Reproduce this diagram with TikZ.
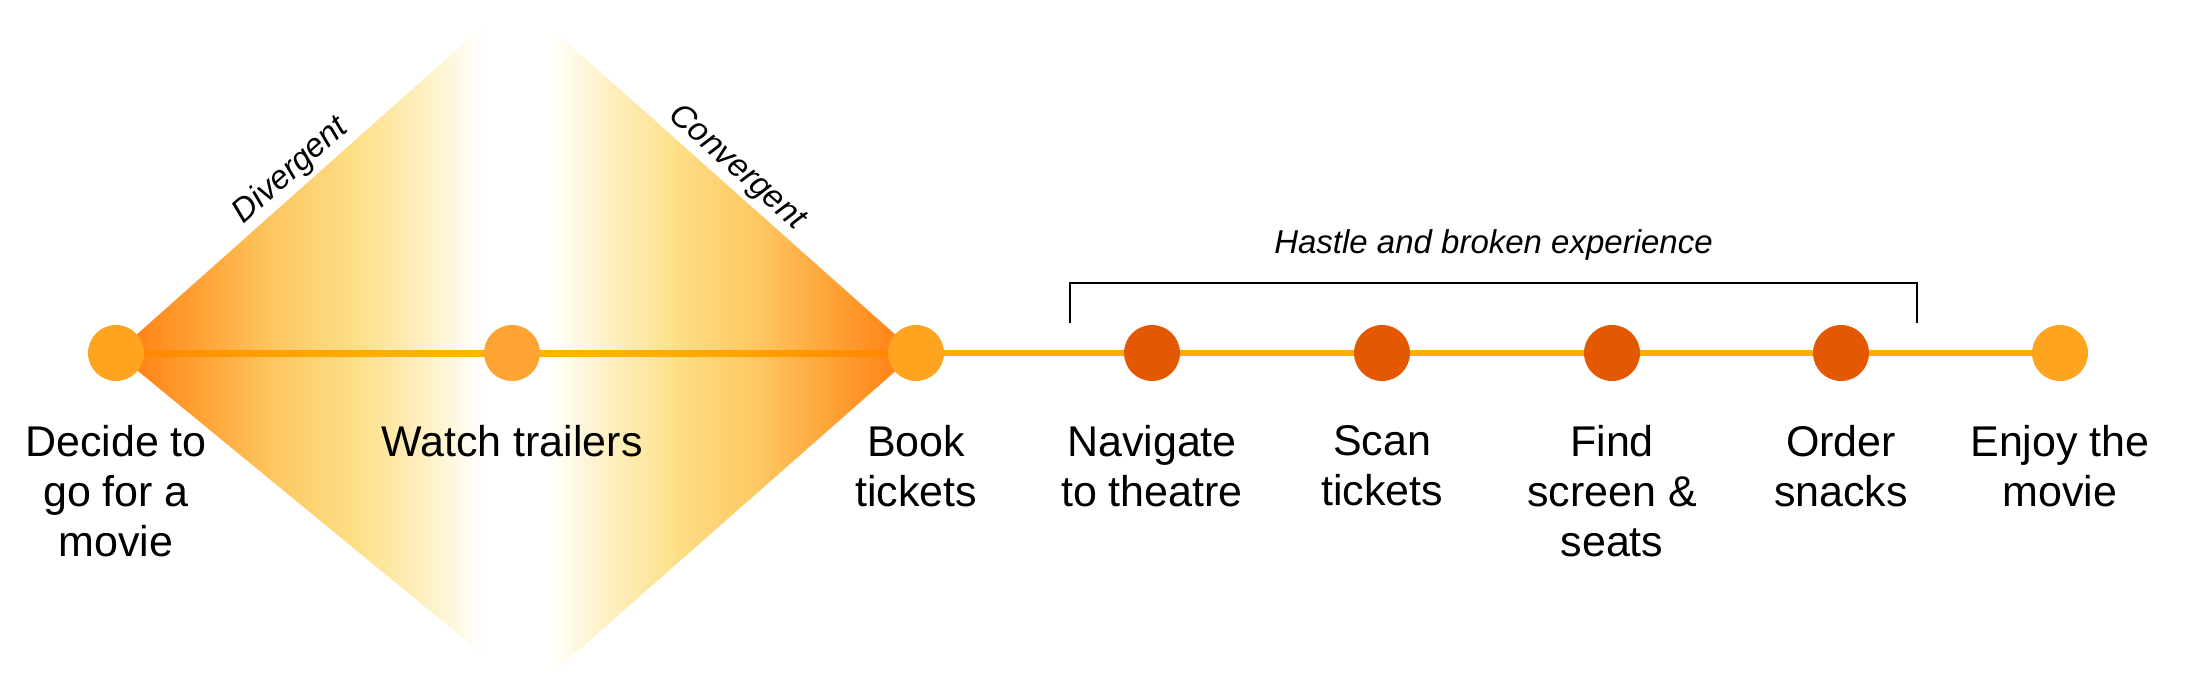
\documentclass[tikz,border=0pt]{standalone}
\usepackage{fontspec}
\setmainfont{Liberation Sans}
\usepackage{tikz}
\usetikzlibrary{positioning,calc,backgrounds}
\usepackage{xcolor}

\definecolor{funnelor}{HTML}{FF7A0E}
\definecolor{funnelmid}{HTML}{FFA033}
\definecolor{funnelgold}{HTML}{FDC862}
\definecolor{funnelyel}{HTML}{FDDF87}
\definecolor{funnelpale}{HTML}{FEF3CD}
\definecolor{trackor}{HTML}{FFAD00}
\definecolor{trackdark}{HTML}{FF8200}
\definecolor{trackmid}{HTML}{FFA600}
\definecolor{trackpale}{HTML}{FFB300}
\definecolor{stoplight}{HTML}{FFA41F}
\definecolor{stopwatch}{HTML}{FFA333}
\definecolor{stopdark}{HTML}{E35800}

% the path covers 25bp..75bp of a tikz shading
\pgfdeclarehorizontalshading{funnelshade}{100bp}{color(0bp)=(funnelor); color(25bp)=(funnelor); color(30bp)=(funnelmid); color(35bp)=(funnelgold); color(40bp)=(funnelyel); color(45bp)=(funnelpale); color(48bp)=(white); color(52bp)=(white); color(55bp)=(funnelpale); color(60bp)=(funnelyel); color(65bp)=(funnelgold); color(70bp)=(funnelmid); color(75bp)=(funnelor); color(100bp)=(funnelor)}
\pgfdeclarehorizontalshading{trackshade}{100bp}{color(0bp)=(trackdark); color(25bp)=(trackdark); color(37bp)=(trackmid); color(45bp)=(trackpale); color(55bp)=(trackpale); color(63bp)=(trackmid); color(75bp)=(trackdark); color(100bp)=(trackdark)}

\begin{document}
\begin{tikzpicture}[x=0.5pt,y=-0.5pt,
  stop/.style={circle,minimum size=28pt,inner sep=0pt},
  lbl/.style={align=center,inner sep=0pt,font=\fontsize{21.5}{25}\selectfont},
  sidelbl/.style={inner sep=0pt,font=\fontsize{16.5}{20}\selectfont\itshape},
  track/.style={draw=trackor,line width=3pt}]
\useasboundingbox (0,0) rectangle (2194,696);

% stops on the journey
\node[stop,fill=stoplight] (decide) at (116,353) {};
\node[stop,fill=stopwatch] (watch) at (512,353) {};
\node[stop,fill=stoplight] (book) at (916,353) {};
\node[stop,fill=stopdark] (navigate) at (1152,353) {};
\node[stop,fill=stopdark] (scan) at (1382,353) {};
\node[stop,fill=stopdark] (find) at (1612,353) {};
\node[stop,fill=stopdark] (order) at (1841,353) {};
\node[stop,fill=stoplight] (enjoy) at (2060,353) {};

\node[lbl,below=22pt of decide] (decidelbl) {Decide to\\go for a\\movie};
\node[lbl,below=22pt of watch] (watchlbl) {Watch trailers};
\node[lbl,below=22pt of book] (booklbl) {Book\\tickets};
\node[lbl,below=22pt of navigate] (navigatelbl) {Navigate\\to theatre};
\node[lbl,below=22pt of scan] (scanlbl) {Scan\\tickets};
\node[lbl,below=22pt of find] (findlbl) {Find\\screen \&\\seats};
\node[lbl,below=22pt of order] (orderlbl) {Order\\snacks};
\node[lbl,below=22pt of enjoy] (enjoylbl) {Enjoy the\\movie};

% double diamond
\coordinate (dl) at (116,353);
\coordinate (dt) at (516,-3);
\coordinate (dr) at (916,353);
\coordinate (db) at (530,693);
\path (dl) -- (dt) node[pos=0.47,sloped,above=2pt,sidelbl] (divlbl) {Divergent};
\path (dt) -- (dr) node[pos=0.52,sloped,above=2pt,sidelbl] (convlbl) {Convergent};

\begin{scope}[on background layer]
  \shade[shading=funnelshade] (dl) -- (dt) -- (dr) -- (db) -- cycle;
  \fill[shading=trackshade] ($(decide.center)+(0,-3)$) rectangle ($(book.center)+(0,3)$);
  \foreach \a/\b in {book/navigate,navigate/scan,scan/find,find/order,order/enjoy}
    \draw[track] (\a) -- (\b);
\end{scope}

% bracket over the broken part
\coordinate (hl) at (1070,323);
\coordinate (hr) at (1917,323);
\draw[line width=1pt] (hl) -- ++(0,-40) -| (hr)
  node[pos=0.25,anchor=base,yshift=15pt,sidelbl] (hastle) {Hastle and broken experience};
\end{tikzpicture}
\end{document}
